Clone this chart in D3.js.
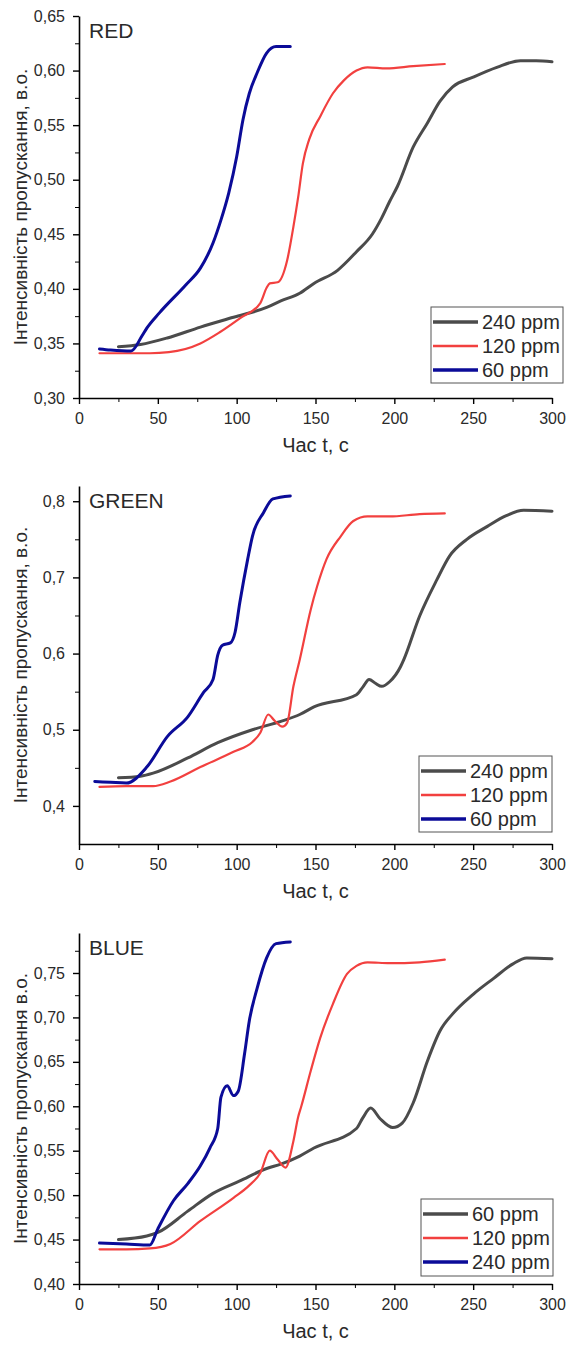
<!DOCTYPE html>
<html>
<head>
<meta charset="utf-8">
<title>RGB</title>
<script src="https://cdn.jsdelivr.net/npm/d3@7"></script>
<style>
body { margin: 0; background: #fff; }
text { font-family: "Liberation Sans", Arial, sans-serif; fill: #2a2a2a; }
</style>
</head>
<body>
<svg width="566" height="1345"></svg>
<script>

// час, с
var xTicks = [0, 50, 100, 150, 200, 250, 300];
var xMinor = [25, 75, 125, 175, 225, 275];

// RED
var red240 = [[25,0.347],[39,0.349],[56,0.355],[77,0.365],[98,0.374],[119,0.383],[128,0.389],[140,0.396],[149,0.405],[164,0.417],[176,0.434],[186,0.450],[192,0.465],[197,0.480],[202,0.494],[212,0.530],[221,0.552],[229,0.572],[237,0.585],[250,0.594],[265,0.603],[280,0.609],[290,0.609],[300,0.608]];
var red120 = [[13,0.341],[30,0.341],[45,0.341],[57,0.342],[77,0.350],[89,0.360],[102,0.373],[115,0.387],[119,0.401],[121,0.405],[126,0.406],[132,0.426],[136,0.457],[139,0.484],[142,0.515],[146,0.537],[153,0.558],[161,0.579],[168,0.591],[176,0.600],[183,0.603],[195,0.602],[212,0.604],[232,0.606]];
var red60 = [[13,0.345],[20,0.344],[33,0.343],[40,0.357],[43,0.364],[51,0.378],[68,0.404],[77,0.419],[85,0.442],[90,0.463],[95,0.488],[100,0.521],[104,0.555],[108,0.579],[113,0.598],[119,0.616],[125,0.622],[134,0.622]];

// GREEN
var green240 = [[25,0.437],[39,0.439],[47,0.443],[69,0.463],[88,0.483],[110,0.500],[128,0.511],[140,0.520],[149,0.530],[176,0.546],[180,0.556],[184,0.566],[188,0.561],[192,0.557],[197,0.563],[204,0.583],[206,0.592],[216,0.649],[227,0.697],[235,0.728],[246,0.750],[259,0.767],[271,0.781],[282,0.788],[300,0.787]];
var green120 = [[13,0.425],[30,0.426],[47,0.426],[58,0.432],[77,0.451],[98,0.471],[110,0.484],[115,0.496],[120,0.520],[124,0.512],[129,0.504],[132,0.509],[136,0.557],[140,0.592],[147,0.658],[151,0.688],[157,0.724],[166,0.754],[174,0.774],[183,0.780],[197,0.780],[216,0.783],[232,0.784]];
var green60 = [[10,0.432],[20,0.431],[30,0.430],[43,0.451],[56,0.491],[69,0.517],[79,0.549],[85,0.566],[88,0.598],[91,0.611],[96,0.614],[99,0.628],[102,0.667],[107,0.724],[110,0.754],[117,0.785],[123,0.803],[134,0.807]];

// BLUE
var blue60 = [[25,0.450],[43,0.454],[50,0.458],[69,0.482],[85,0.502],[102,0.516],[119,0.530],[128,0.535],[140,0.544],[149,0.553],[176,0.575],[180,0.587],[185,0.598],[191,0.586],[199,0.576],[205,0.581],[212,0.604],[221,0.651],[229,0.685],[237,0.704],[250,0.726],[263,0.744],[275,0.760],[284,0.767],[300,0.766]];
var blue120 = [[13,0.439],[30,0.439],[45,0.440],[58,0.445],[77,0.471],[98,0.497],[108,0.511],[115,0.525],[121,0.550],[126,0.540],[131,0.531],[136,0.561],[139,0.588],[141,0.600],[147,0.640],[153,0.677],[161,0.715],[170,0.749],[176,0.758],[183,0.762],[197,0.761],[216,0.762],[232,0.765]];
var blue240 = [[13,0.446],[30,0.445],[45,0.444],[50,0.462],[60,0.494],[69,0.513],[77,0.533],[83,0.553],[88,0.575],[90,0.610],[94,0.623],[98,0.612],[101,0.617],[105,0.659],[108,0.696],[113,0.733],[119,0.767],[125,0.783],[134,0.785]];

var legendRG = ["240 ppm", "120 ppm", "60 ppm"];
var legendB = ["60 ppm", "120 ppm", "240 ppm"];

var colors = ["#4b4b4b", "#f2403f", "#0b0b98"];
var widths = [3, 2.2, 3];

var panels = [
{ name: "RED", top: 16, bottom: 398, ydom: [0.30, 0.65],
  yTicks: [0.30,0.35,0.40,0.45,0.50,0.55,0.60,0.65], yMinor: [0.325,0.375,0.425,0.475,0.525,0.575,0.625], dec: 2,
  ytitle: "Інтенсивність пропускання, в.о.", series: [red240, red120, red60], legend: legendRG,
  lg: { x: 431, y: 307, w: 132, h: 76 } },
{ name: "GREEN", top: 486, bottom: 844, ydom: [0.35, 0.82],
  yTicks: [0.4,0.5,0.6,0.7,0.8], yMinor: [0.45,0.55,0.65,0.75], dec: 1,
  ytitle: "Інтенсивність пропускання, в.о.", series: [green240, green120, green60], legend: legendRG,
  lg: { x: 419, y: 756, w: 133, h: 76 } },
{ name: "BLUE", top: 933, bottom: 1284, ydom: [0.40, 0.795],
  yTicks: [0.40,0.45,0.50,0.55,0.60,0.65,0.70,0.75], yMinor: [0.425,0.475,0.525,0.575,0.625,0.675,0.725,0.775], dec: 2,
  ytitle: "Інтенсивність пропускання в.о.", series: [blue60, blue120, blue240], legend: legendB,
  lg: { x: 421, y: 1199, w: 132, h: 77 } }
];

var svg = d3.select("svg");
var x = d3.scaleLinear().domain([0, 300]).range([79, 552]);

panels.forEach(function(p) {
  var y = d3.scaleLinear().domain(p.ydom).range([p.bottom, p.top]);
  var g = svg.append("g");
  var fmt = function(d) { return d.toFixed(p.dec).replace(".", ","); };

  // minor ticks
  g.append("g").attr("transform", "translate(0," + p.bottom + ")")
    .call(d3.axisBottom(x).tickValues(xMinor).tickSize(4).tickFormat(""))
    .call(function(a) { a.select(".domain").remove(); });
  g.append("g").attr("transform", "translate(79,0)")
    .call(d3.axisLeft(y).tickValues(p.yMinor).tickSize(4).tickFormat(""))
    .call(function(a) { a.select(".domain").remove(); });

  var xa = g.append("g").attr("transform", "translate(0," + p.bottom + ")")
    .call(d3.axisBottom(x).tickValues(xTicks).tickSize(6).tickSizeOuter(0).tickPadding(9));
  var ya = g.append("g").attr("transform", "translate(79,0)")
    .call(d3.axisLeft(y).tickValues(p.yTicks).tickFormat(fmt).tickSize(6).tickSizeOuter(0).tickPadding(8));
  [xa, ya].forEach(function(a) {
    a.selectAll("text").attr("font-size", 16).attr("font-family", null);
    a.select(".domain").attr("stroke-width", 1.6);
    a.selectAll(".tick line").attr("stroke-width", 1.4);
  });
  g.selectAll(".tick line").attr("stroke", "#000");

  var line = d3.line()
    .x(function(d) { return x(d[0]); })
    .y(function(d) { return y(d[1]); })
    .curve(d3.curveMonotoneX);

  p.series.forEach(function(s, i) {
    g.append("path").datum(s)
      .attr("d", line)
      .attr("fill", "none")
      .attr("stroke", colors[i])
      .attr("stroke-width", widths[i])
      .attr("stroke-linejoin", "round")
      .attr("stroke-linecap", "round");
  });

  g.append("text").attr("x", 89).attr("y", p.top + 22)
    .attr("font-size", 21).text(p.name);

  g.append("text")
    .attr("transform", "translate(27," + ((p.top + p.bottom) / 2) + ") rotate(-90)")
    .attr("text-anchor", "middle").attr("font-size", 19)
    .text(p.ytitle);

  g.append("text").attr("x", 315.5).attr("y", p.bottom + 54)
    .attr("text-anchor", "middle").attr("font-size", 20)
    .text("Час t, с");

  // legend
  var lg = g.append("g").attr("transform", "translate(" + p.lg.x + "," + p.lg.y + ")");
  lg.append("rect").attr("width", p.lg.w).attr("height", p.lg.h)
    .attr("fill", "#fff").attr("stroke", "#555").attr("stroke-width", 1);
  p.legend.forEach(function(label, i) {
    var ry = 15 + i * 24;
    lg.append("line").attr("x1", 2).attr("x2", 47).attr("y1", ry).attr("y2", ry)
      .attr("stroke", colors[i]).attr("stroke-width", widths[i] + 0.3);
    lg.append("text").attr("x", 51).attr("y", ry + 7)
      .attr("font-size", 20).text(label);
  });
});

</script>
</body>
</html>
